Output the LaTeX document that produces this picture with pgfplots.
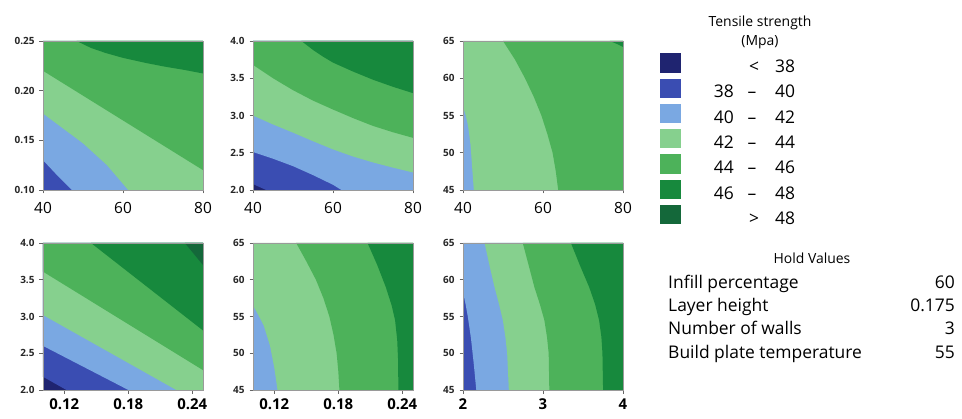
\documentclass[border=0pt]{standalone}
\usepackage{pgfplots}
\pgfplotsset{compat=1.18}
\usepackage{fontspec}
\setmainfont{Open Sans}
\definecolor{c1}{HTML}{1F2470}
\definecolor{c2}{HTML}{3A4DB2}
\definecolor{c3}{HTML}{7AA8E2}
\definecolor{c4}{HTML}{86D08E}
\definecolor{c5}{HTML}{4DB25A}
\definecolor{c6}{HTML}{17893D}
\definecolor{c7}{HTML}{14683A}
\definecolor{frame}{HTML}{9A9A9A}
\pgfplotsset{
  panel/.style={scale only axis, width=160bp, anchor=south west, axis on top,
    enlargelimits=false, tick align=outside,
    axis line style={draw=frame, line width=0.6bp},
    tick style={draw=black!60, line width=0.6bp},
    major tick length=3.5bp, xtick pos=bottom, ytick pos=left,
    yticklabel style={font=\fontsize{10}{11}\selectfont\bfseries, text=black!85, xshift=-1.5bp},
    xticklabel style={font=\fontsize{15.5}{17}\selectfont, text=black},
    every axis plot/.append style={draw=none, mark=none}},
  row1/.style={height=149bp, xticklabel shift=5bp},
  row2/.style={height=147bp, xticklabel shift=1.5bp, xticklabel style={font=\fontsize{15}{17}\selectfont\bfseries}},
  fc/.style={draw=none, mark=none, fill=#1},
}
\begin{document}
\begin{tikzpicture}
\useasboundingbox (0bp,0bp) rectangle (962bp,419bp);

% ---------- Panel 1: Infill (x) vs Layer height (y)
\begin{axis}[panel,row1,at={(43bp,229bp)},xmin=40,xmax=80,ymin=0.10,ymax=0.25,
  xtick={40,60,80},xticklabels={40,60,80},
  ytick={0.10,0.15,0.20,0.25},yticklabels={0.10,0.15,0.20,0.25}]
\addplot[fc=c2] coordinates {(40,0.10)(80,0.10)(80,0.25)(40,0.25)};
\addplot[fc=c3] coordinates {(40,0.130)(43.5,0.115)(47.2,0.10)(80,0.10)(80,0.25)(40,0.25)};
\addplot[fc=c4] coordinates {(40,0.177)(45,0.162)(50,0.147)(56,0.125)(61.3,0.10)(80,0.10)(80,0.25)(40,0.25)};
\addplot[fc=c5] coordinates {(40,0.220)(50,0.195)(60,0.170)(70,0.145)(80,0.120)(80,0.25)(40,0.25)};
\addplot[fc=c6] coordinates {(48.4,0.25)(52,0.243)(55.6,0.238)(60,0.233)(65.6,0.228)(70,0.2245)(75.6,0.2207)(80,0.2173)(80,0.25)};
\end{axis}

% ---------- Panel 2: Infill (x) vs Number of walls (y)
\begin{axis}[panel,row1,at={(253bp,229bp)},xmin=40,xmax=80,ymin=2,ymax=4,
  xtick={40,60,80},xticklabels={40,60,80},
  ytick={2,2.5,3,3.5,4},yticklabels={2.0,2.5,3.0,3.5,4.0}]
\addplot[fc=c1] coordinates {(40,2)(80,2)(80,4)(40,4)};
\addplot[fc=c2] coordinates {(40,2.08)(41.6,2.04)(43.3,2.0)(80,2)(80,4)(40,4)};
\addplot[fc=c3] coordinates {(40,2.51)(45,2.42)(50,2.32)(55,2.20)(60,2.07)(62.1,2.0)(80,2)(80,4)(40,4)};
\addplot[fc=c4] coordinates {(40,3.0)(45,2.88)(50,2.77)(55,2.655)(60,2.545)(65,2.45)(70,2.37)(75,2.30)(80,2.235)(80,4)(40,4)};
\addplot[fc=c5] coordinates {(40,3.68)(45,3.50)(50,3.34)(55,3.20)(60,3.08)(65,2.965)(70,2.86)(75,2.775)(80,2.70)(80,4)(40,4)};
\addplot[fc=c6] coordinates {(52.1,4.0)(55,3.88)(57.5,3.79)(60,3.71)(65,3.59)(70,3.48)(75,3.385)(80,3.30)(80,4)};
\end{axis}

% ---------- Panel 3: Infill (x) vs Build plate temperature (y)
\begin{axis}[panel,row1,at={(463bp,229bp)},xmin=40,xmax=80,ymin=45,ymax=65,
  xtick={40,60,80},xticklabels={40,60,80},
  ytick={45,50,55,60,65},yticklabels={45,50,55,60,65}]
\addplot[fc=c3] coordinates {(40,45)(80,45)(80,65)(40,65)};
\addplot[fc=c4] coordinates {(40,56.2)(40.7,55)(41.3,53.5)(41.9,51)(42.3,48)(42.7,45)(80,45)(80,65)(40,65)};
\addplot[fc=c5] coordinates {(50,65)(53,62.5)(55.5,60)(57.7,57.5)(59.6,55)(61.1,52.5)(62.4,50)(63.2,47.5)(63.8,45)(80,45)(80,65)};
\addplot[fc=c6] coordinates {(76.7,65)(78.5,64.6)(80,64.2)(80,65)};
\end{axis}

% ---------- Panel 4: Layer height (x) vs Number of walls (y)
\begin{axis}[panel,row2,at={(43bp,29bp)},xmin=0.10,xmax=0.25,ymin=2,ymax=4,
  xtick={0.12,0.18,0.24},xticklabels={0.12,0.18,0.24},
  ytick={2,2.5,3,3.5,4},yticklabels={2.0,2.5,3.0,3.5,4.0}]
\addplot[fc=c1] coordinates {(0.10,2)(0.25,2)(0.25,4)(0.10,4)};
\addplot[fc=c2] coordinates {(0.10,2.18)(0.111,2.09)(0.122,2.0)(0.25,2)(0.25,4)(0.10,4)};
\addplot[fc=c3] coordinates {(0.10,2.60)(0.18,2.0)(0.25,2)(0.25,4)(0.10,4)};
\addplot[fc=c4] coordinates {(0.10,3.02)(0.225,2.0)(0.25,2)(0.25,4)(0.10,4)};
\addplot[fc=c5] coordinates {(0.10,3.61)(0.25,2.27)(0.25,4)(0.10,4)};
\addplot[fc=c6] coordinates {(0.145,4.0)(0.25,2.81)(0.25,4)};
\addplot[fc=c7] coordinates {(0.233,4.0)(0.25,3.70)(0.25,4)};
\end{axis}

% ---------- Panel 5: Layer height (x) vs Build plate temperature (y)
\begin{axis}[panel,row2,at={(253bp,29bp)},xmin=0.10,xmax=0.25,ymin=45,ymax=65,
  xtick={0.12,0.18,0.24},xticklabels={0.12,0.18,0.24},
  ytick={45,50,55,60,65},yticklabels={45,50,55,60,65}]
\addplot[fc=c3] coordinates {(0.10,45)(0.25,45)(0.25,65)(0.10,65)};
\addplot[fc=c4] coordinates {(0.10,56.5)(0.105,55.2)(0.110,53.8)(0.116,51)(0.120,48)(0.123,45)(0.25,45)(0.25,65)(0.10,65)};
\addplot[fc=c5] coordinates {(0.1405,65)(0.150,62.5)(0.159,60)(0.166,57.5)(0.1716,55)(0.1755,52.5)(0.1784,50)(0.1800,47.5)(0.181,45)(0.25,45)(0.25,65)};
\addplot[fc=c6] coordinates {(0.2074,65)(0.2165,62)(0.2245,59)(0.2300,56.5)(0.2332,54.5)(0.2352,51.8)(0.236,49.1)(0.2363,45)(0.25,45)(0.25,65)};
\end{axis}

% ---------- Panel 6: Number of walls (x) vs Build plate temperature (y)
\begin{axis}[panel,row2,at={(463bp,29bp)},xmin=2,xmax=4,ymin=45,ymax=65,
  xtick={2,3,4},xticklabels={2,3,4},
  ytick={45,50,55,60,65},yticklabels={45,50,55,60,65}]
\addplot[fc=c2] coordinates {(2,45)(4,45)(4,65)(2,65)};
\addplot[fc=c3] coordinates {(2,58.3)(2.03,56.8)(2.06,55)(2.10,52)(2.135,48.5)(2.166,45)(4,45)(4,65)(2,65)};
\addplot[fc=c4] coordinates {(2.27,65)(2.33,62)(2.394,59)(2.45,56.7)(2.498,54.5)(2.53,52.2)(2.552,50)(2.573,45)(4,45)(4,65)};
\addplot[fc=c5] coordinates {(2.747,65)(2.82,62)(2.892,59)(2.96,56.7)(3.017,54.5)(3.05,52.2)(3.071,50)(3.079,45)(4,45)(4,65)};
\addplot[fc=c6] coordinates {(3.349,65)(3.46,62)(3.577,59)(3.65,56.7)(3.701,54.5)(3.73,52.2)(3.743,50)(3.751,45)(4,45)(4,65)};
\end{axis}

% ---------- Legend
\node[anchor=base, font=\fontsize{14}{16}\selectfont] at (760bp,392.3bp) {Tensile strength};
\node[anchor=base, font=\fontsize{14}{16}\selectfont] at (760bp,373bp) {(Mpa)};
\fill[c1] (660bp,346.4bp) rectangle (681bp,365.7bp);
\fill[c2] (660bp,321.1bp) rectangle (681bp,340.4bp);
\fill[c3] (660bp,295.8bp) rectangle (681bp,315.1bp);
\fill[c4] (660bp,270.5bp) rectangle (681bp,289.8bp);
\fill[c5] (660bp,245.2bp) rectangle (681bp,264.5bp);
\fill[c6] (660bp,219.9bp) rectangle (681bp,239.2bp);
\fill[c7] (660bp,194.6bp) rectangle (681bp,213.9bp);
\begin{scope}[every node/.style={font=\fontsize{17.5}{20}\selectfont, inner sep=0pt}]
\node[anchor=base] at (754bp,346.3bp) {<};
\node[anchor=base west] at (775bp,346.3bp) {38};
\node[anchor=base east] at (734bp,321.0bp) {38};
\node[anchor=base] at (752bp,321.0bp) {–};
\node[anchor=base west] at (775bp,321.0bp) {40};
\node[anchor=base east] at (734bp,295.7bp) {40};
\node[anchor=base] at (752bp,295.7bp) {–};
\node[anchor=base west] at (775bp,295.7bp) {42};
\node[anchor=base east] at (734bp,270.4bp) {42};
\node[anchor=base] at (752bp,270.4bp) {–};
\node[anchor=base west] at (775bp,270.4bp) {44};
\node[anchor=base east] at (734bp,245.1bp) {44};
\node[anchor=base] at (752bp,245.1bp) {–};
\node[anchor=base west] at (775bp,245.1bp) {46};
\node[anchor=base east] at (734bp,219.8bp) {46};
\node[anchor=base] at (752bp,219.8bp) {–};
\node[anchor=base west] at (775bp,219.8bp) {48};
\node[anchor=base] at (754bp,194.5bp) {>};
\node[anchor=base west] at (775bp,194.5bp) {48};
\end{scope}

% ---------- Hold values
\node[anchor=base, font=\fontsize{14}{16}\selectfont] at (812bp,155.7bp) {Hold Values};
\begin{scope}[every node/.style={font=\fontsize{17.5}{20}\selectfont, inner sep=0pt}]
\node[anchor=base west] at (668bp,130.7bp) {Infill percentage};
\node[anchor=base east] at (955bp,130.7bp) {60};
\node[anchor=base west] at (668bp,107.3bp) {Layer height};
\node[anchor=base east] at (955bp,107.3bp) {0.175};
\node[anchor=base west] at (668bp,84bp) {Number of walls};
\node[anchor=base east] at (955bp,84bp) {3};
\node[anchor=base west] at (668bp,60.7bp) {Build plate temperature};
\node[anchor=base east] at (955bp,60.7bp) {55};
\end{scope}
\end{tikzpicture}
\end{document}
